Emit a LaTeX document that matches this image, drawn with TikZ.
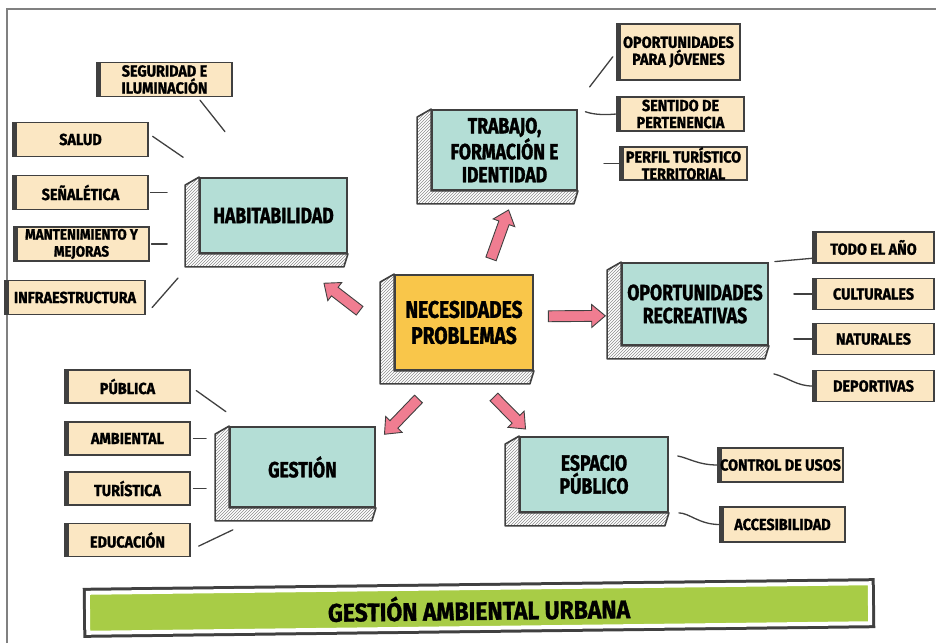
\documentclass[tikz,border=0pt]{standalone}
\usepackage{fontspec}
\usetikzlibrary{shapes.arrows,patterns}
\newfontfamily\lbl{Fira Sans}[FakeStretch=0.9, FakeBold=1.2]
\newfontfamily\hdl{Fira Sans}[FakeStretch=0.8, FakeBold=1.4]
\definecolor{tealbox}{HTML}{B4DED6}
\definecolor{tanbox}{HTML}{FBE7C3}
\definecolor{yellowbox}{HTML}{F9C64A}
\definecolor{rosa}{HTML}{F07D91}
\definecolor{lima}{HTML}{A8CC46}
\definecolor{edge}{HTML}{404040}
\definecolor{framegray}{HTML}{808080}

\tikzset{
  topic/.style={draw=edge, line width=1.8pt, fill=tealbox, align=center, inner sep=0pt,
    font=\hdl\bfseries\fontsize{22}{23}\selectfont},
  leaf/.style={draw=edge, line width=1.1pt, fill=tanbox, align=center, inner sep=0pt,
    minimum height=34, font=\lbl\bfseries\fontsize{16}{17}\selectfont,
    path picture={\draw[edge, line width=8pt] (path picture bounding box.north west) -- (path picture bounding box.south west);}},
  twig/.style={draw=edge, line width=1.3pt, line cap=round},
  parrow/.style={single arrow, sloped, allow upside down, draw=edge, fill=rosa, line width=0.9pt,
    minimum height=#1, inner xsep=0pt, inner ysep=5pt, single arrow head extend=6pt,
    single arrow tip angle=80},
  banner/.style={fill=lima, draw=white, line width=4pt, preaction={draw=edge, line width=10pt},
    minimum width=782, minimum height=40, font=\lbl\bfseries\fontsize{25.5}{25}\selectfont}
}

\begin{document}
\begin{tikzpicture}[x=1pt,y=-1pt]
\useasboundingbox (0,0) rectangle (936,643);
\draw[framegray, line width=2pt] (7,643) -- (7,9) -- (936,9); % page frame

% centre and the five topics
\node[topic, fill=yellowbox, minimum width=138, minimum height=95,
  font=\hdl\bfseries\fontsize{24}{26}\selectfont] (nec) at (464,322.5) {NECESIDADES\\PROBLEMAS};
\node[topic, minimum width=147, minimum height=75] (hab) at (273.5,215.5) {HABITABILIDAD};
\node[topic, minimum width=145, minimum height=80] (trab) at (504.5,150) {TRABAJO,\\FORMACIÓN E\\IDENTIDAD};
\node[topic, minimum width=146, minimum height=82] (opo) at (695,304) {OPORTUNIDADES\\RECREATIVAS};
\node[topic, minimum width=145, minimum height=80] (ges) at (302.5,467) {GESTIÓN};
\node[topic, minimum width=148, minimum height=75] (esp) at (594,474.5) {ESPACIO\\PÚBLICO};

\foreach \n in {nec,hab,trab,opo,ges,esp} % hatched depth
\draw[edge, line width=1.6pt, line join=round, pattern=north east lines, pattern color=black!45]
  (\n.north west) -- ([shift={(-14,8)}]\n.north west) -- ([shift={(-14,13)}]\n.south west)
  -- ([shift={(-4,13)}]\n.south east) -- (\n.south east) -- (\n.south west) -- cycle;

% pink arrows out of the centre
\foreach \a/\b/\t/\l/\p in {192/hab/-72/45/.46, 66/trab/-75/52/.44, 5/opo/189/57/.455,
  -111/ges/18/49/.60, -85/esp/148/45/.61}
\path (nec.\a) -- (\b.\t) node[parrow=\l, pos=\p] {};

% habitabilidad
\node[leaf, minimum width=135] (seg) at (164.5,79.5) {SEGURIDAD E\\ILUMINACIÓN};
\foreach \n/\y/\t in {sal/139.5/SALUD, sen/192.5/SEÑALÉTICA}
\node[leaf, minimum width=135] (\n) at (80.5,\y) {\t};
\node[leaf, minimum width=135, font=\lbl\bfseries\fontsize{15}{17}\selectfont] (man) at (81.5,244) {MANTENIMIENTO Y\\MEJORAS};
\node[leaf, minimum width=140] (inf) at (75,297.5) {INFRAESTRUCTURA};
\draw[twig, shorten <=4, shorten >=58] (seg.-28) -- (hab.108);
\draw[twig, shorten <=5, shorten >=35] (sal.5) -- (hab.148);
\foreach \n in {sen,man}
\draw[twig, shorten <=2, shorten >=32] (\n.east) -- (\n.east -| hab.west);
\draw[twig, shorten <=10, shorten >=32] (inf.south east) -- (hab.south west);

% trabajo
\node[leaf, minimum width=123, minimum height=56] (opj) at (678.5,52) {OPORTUNIDADES\\PARA JÓVENES};
\node[leaf, minimum width=127] (sdp) at (680.5,114) {SENTIDO DE\\PERTENENCIA};
\node[leaf, minimum width=127, minimum height=33] (ptt) at (683.5,163.5) {PERFIL TURÍSTICO\\TERRITORIAL};
\draw[twig, shorten <=28, shorten >=6] (trab.31) -- (opj.west);
\draw[twig, shorten <=8, shorten >=1] (trab.north east) to[bend right=12] (sdp.west);
\draw[twig, shorten <=26] (ptt.west -| trab.east) -- (ptt.west);

% oportunidades
\foreach \n/\y/\t in {tda/247.5/TODO EL AÑO, cul/294/CULTURALES, nat/339/NATURALES, dep/386/DEPORTIVAS}
\node[leaf, minimum width=121, minimum height=31] (\n) at (873.5,\y) {\t};
\coordinate (depend) at ([shift={(5,28)}]opo.south east);
\draw[twig, shorten <=6] (opo.north east) -- (tda.190);
\foreach \n in {cul,nat}
\draw[twig, shorten <=25] (\n.west -| opo.east) -- (\n.west);
\draw[twig] (dep.west) to[out=180, in=-15] (depend);

% gestion
\foreach \n/\y/\t in {pub/386.5/PÚBLICA, amb/438.5/AMBIENTAL, tur/488.5/TURÍSTICA, edu/540/EDUCACIÓN}
\node[leaf, minimum width=125, minimum height=33] (\n) at (127.5,\y) {\t};
\draw[twig, shorten <=7, shorten >=25] (pub.east) -- (ges.144);
\foreach \n in {amb,tur}
\draw[twig, shorten <=3, shorten >=23] (\n.east) -- (\n.east -| ges.west);
\draw[twig, shorten <=9, shorten >=51] (edu.-9) -- (ges.-120);

% espacio publico
\node[leaf, minimum width=125] (cdu) at (780.5,465) {CONTROL DE USOS};
\node[leaf, minimum width=125, minimum height=35] (acc) at (782.5,524.5) {ACCESIBILIDAD};
\draw[twig, shorten <=9] (esp.15) to[out=-10, in=180] (cdu.west);
\draw[twig, shorten <=10] (esp.south east) to[out=0, in=180] (acc.west);

\node[banner, rotate=0.7] (title) at (479,608) {GESTIÓN AMBIENTAL URBANA};
\end{tikzpicture}
\end{document}
